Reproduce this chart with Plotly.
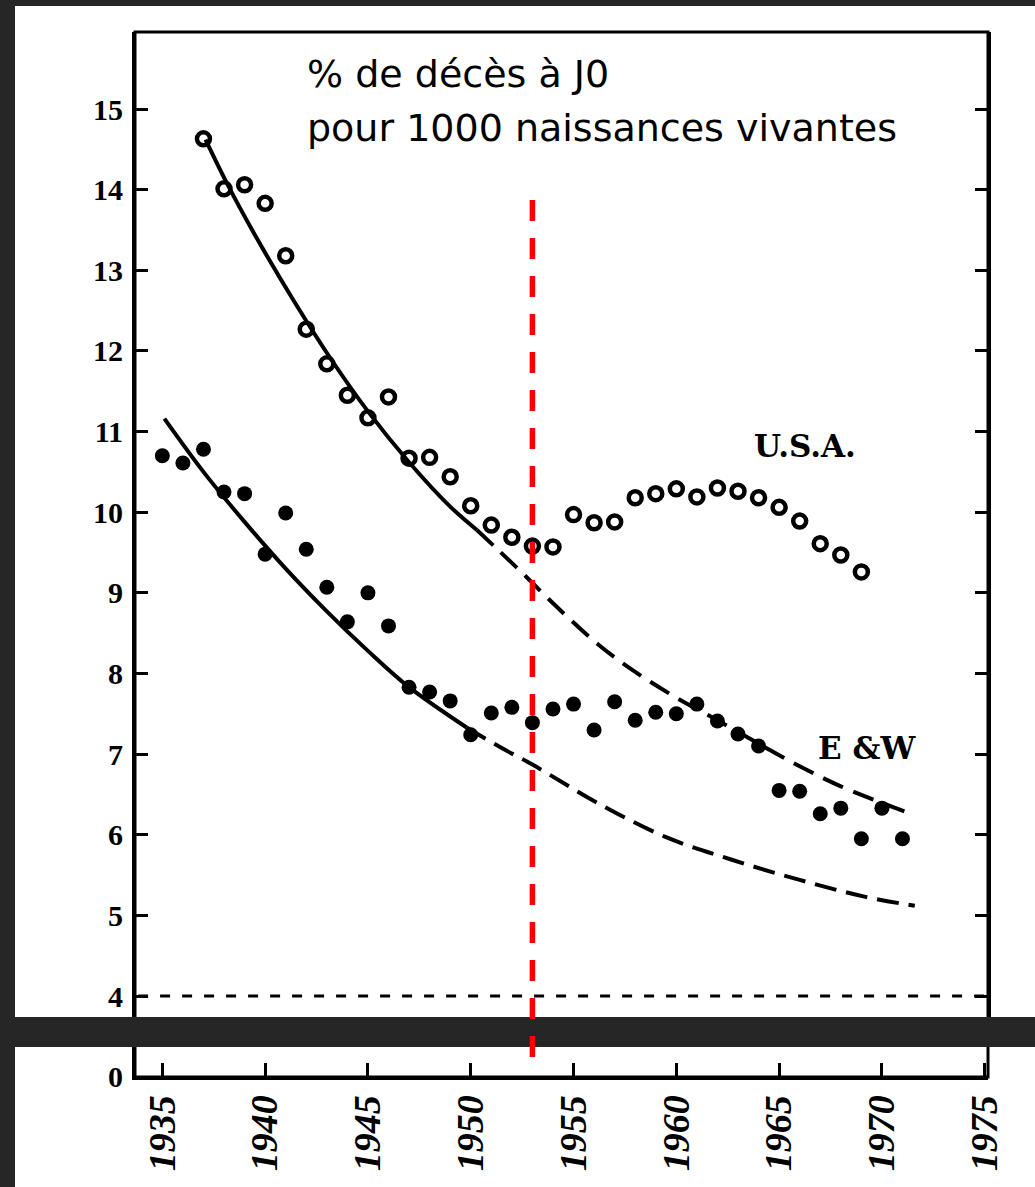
import plotly.graph_objects as go

# ---------------- data ----------------
years_usa = list(range(1937, 1970))
usa = [14.63, 14.01, 14.06, 13.83, 13.18, 12.27, 11.84, 11.45, 11.17, 11.43,
       10.67, 10.68, 10.44, 10.08, 9.84, 9.69, 9.58, 9.57, 9.97, 9.87,
       9.88, 10.18, 10.23, 10.29, 10.19, 10.30, 10.26, 10.18, 10.06, 9.89,
       9.61, 9.47, 9.26]

years_ew = list(range(1935, 1972))
ew = [10.70, 10.61, 10.78, 10.25, 10.23, 9.48, 9.99, 9.54, 9.07, 8.64,
      9.00, 8.59, 7.83, 7.77, 7.66, 7.24, 7.51, 7.58, 7.39, 7.56,
      7.62, 7.30, 7.65, 7.42, 7.52, 7.50, 7.62, 7.41, 7.25, 7.10,
      6.55, 6.54, 6.26, 6.33, 5.95, 6.33, 5.95]

usa_fit_solid_x = [1937.1, 1938.2, 1939.7, 1941.4, 1943.2, 1945.0, 1947.0, 1949.0, 1950.3]
usa_fit_solid_y = [14.62, 14.05, 13.35, 12.62, 11.90, 11.25, 10.62, 10.07, 9.78]
usa_fit_dash_x = [1950.3, 1951.3, 1952.7, 1953.8, 1956.2, 1958.0, 1960.0, 1962.0,
                  1964.0, 1966.0, 1968.0, 1971.3]
usa_fit_dash_y = [9.78, 9.54, 9.20, 8.92, 8.36, 8.02, 7.70, 7.42, 7.13, 6.85, 6.60, 6.27]

ew_fit_solid_x = [1935.1, 1937.0, 1939.0, 1941.0, 1943.0, 1945.0, 1947.0, 1949.8]
ew_fit_solid_y = [11.16, 10.50, 9.88, 9.30, 8.77, 8.28, 7.83, 7.33]
ew_fit_dash_x = [1949.8, 1951.4, 1953.0, 1956.2, 1959.5, 1962.7, 1966.0, 1969.2, 1971.6]
ew_fit_dash_y = [7.33, 7.09, 6.87, 6.39, 5.97, 5.69, 5.44, 5.23, 5.12]

x_ticks = [1935, 1940, 1945, 1950, 1955, 1960, 1965, 1970, 1975]
y_ticks = [4, 5, 6, 7, 8, 9, 10, 11, 12, 13, 14, 15]
lower_ticks = [0]

MARK_YEAR = 1953
REF_LEVEL = 4

title_lines = ["% de décès à J0", "pour 1000 naissances vivantes"]
label_usa = "U.S.A."
label_ew = "E &W"

# ---------------- layout geometry ----------------
W, H = 1035, 1187
L, R, T, B = 135, 47, 32, 110
PW, PH = W - L - R, H - T - B


def pyp(p):
    return (H - B - p) / PH


def pxp(p):
    return (p - L) / PW


X_RANGE = [1933.67, 1975.16]
Y_RANGE = [3.554, 15.955]
SPLIT = pyp(1032)
DARK = "#262626"

fig = go.Figure()

fig.add_trace(go.Scatter(x=[X_RANGE[0] + 0.15, X_RANGE[1]], y=[REF_LEVEL, REF_LEVEL],
                         mode="lines", line=dict(color="black", width=3, dash="10px,12px"),
                         hoverinfo="skip", showlegend=False))

for xs, ys, dash in [(usa_fit_solid_x, usa_fit_solid_y, "solid"),
                     (usa_fit_dash_x, usa_fit_dash_y, "22px,11px"),
                     (ew_fit_solid_x, ew_fit_solid_y, "solid"),
                     (ew_fit_dash_x, ew_fit_dash_y, "22px,10px")]:
    fig.add_trace(go.Scatter(x=xs, y=ys, mode="lines",
                             line=dict(color="black", width=4, dash=dash, shape="spline"),
                             showlegend=False))

fig.add_trace(go.Scatter(x=years_usa, y=usa, mode="markers", name="U.S.A.",
                         marker=dict(symbol="circle-open", size=13, color="black",
                                     line=dict(width=4.5, color="black")),
                         showlegend=False))
fig.add_trace(go.Scatter(x=years_ew, y=ew, mode="markers", name="E & W",
                         marker=dict(symbol="circle", size=15, color="black"),
                         showlegend=False))
# lower part of the broken axis
fig.add_trace(go.Scatter(x=[None], y=[None], yaxis="y2", showlegend=False))

tick_font_y = dict(family="Liberation Serif", size=30, color="black", weight="bold")
fig.update_layout(
    width=W, height=H, autosize=False,
    margin=dict(l=L, r=R, t=T, b=B, pad=0, autoexpand=False),
    paper_bgcolor="white", plot_bgcolor="white",
    showlegend=False,
    xaxis=dict(range=X_RANGE, anchor="y2", tickvals=x_ticks, ticks="inside", ticklen=14,
               tickwidth=3, tickcolor="black", tickangle=-90, automargin=False,
               tickfont=dict(family="Liberation Serif", size=38, color="black",
                             weight="bold", style="italic"),
               ticklabelstandoff=0,
               showgrid=False, zeroline=False, showline=True, linecolor="black", linewidth=3),
    yaxis=dict(domain=[SPLIT, 1], range=Y_RANGE, anchor="x", tickvals=y_ticks,
               ticks="inside", ticklen=13, tickwidth=3, tickcolor="black", mirror="ticks",
               tickfont=tick_font_y, ticklabelstandoff=3, automargin=False,
               showgrid=False, zeroline=False, showline=True, linecolor="black", linewidth=3),
    yaxis2=dict(domain=[0, SPLIT], range=[-0.02, 1], anchor="x", tickvals=lower_ticks,
                ticks="", tickfont=tick_font_y, ticklabelstandoff=3, automargin=False,
                showgrid=False, zeroline=False, showline=True, linecolor="black", linewidth=3),
)

# title text
fig.add_annotation(text=title_lines[0], xref="paper", yref="paper", x=pxp(305), y=pyp(74),
                   xanchor="left", yanchor="middle", showarrow=False,
                   font=dict(family="DejaVu Sans", size=38, color="black"))
fig.add_annotation(text=title_lines[1], xref="paper", yref="paper", x=pxp(305), y=pyp(128),
                   xanchor="left", yanchor="middle", showarrow=False,
                   font=dict(family="DejaVu Sans", size=38, color="black"))
# series labels
fig.add_annotation(text=label_usa, xref="x", yref="y", x=1966.26, y=10.82,
                   showarrow=False, font=dict(family="DejaVu Serif", size=31, color="black",
                                              weight="bold"))
fig.add_annotation(text=label_ew, xref="x", yref="y", x=1969.28, y=7.08,
                   showarrow=False, font=dict(family="DejaVu Serif", size=31, color="black",
                                              weight="bold"))

# frame, dark borders, axis break band, red marker line
fig.add_shape(type="rect", xref="paper", yref="paper", x0=0, x1=1, y0=0, y1=1,
              line=dict(color="black", width=3), layer="above")
for (x0, x1, y0, y1) in [(0, 15, 0, H), (0, W, 0, 6), (0, W, 1017, 1047)]:
    fig.add_shape(type="rect", xref="paper", yref="paper",
                  x0=pxp(x0), x1=pxp(x1), y0=pyp(y1), y1=pyp(y0),
                  fillcolor=DARK, line=dict(width=0), layer="above")
fig.add_shape(type="line", xref="x", yref="paper", x0=MARK_YEAR, x1=MARK_YEAR,
              y0=pyp(200), y1=pyp(1060),
              line=dict(color="#ff0000", width=5.5, dash="21px,17px"), layer="above")

fig.write_html("out.html", config={"displayModeBar": False},
               post_script="document.body.style.margin='0';"
                           "document.body.style.overflow='hidden';")
